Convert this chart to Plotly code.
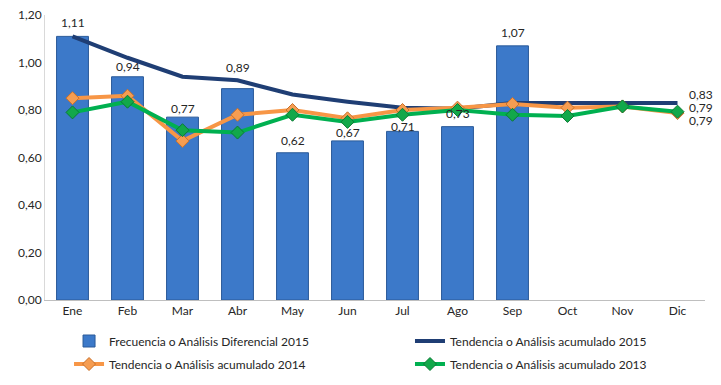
import plotly.graph_objects as go

months = ["Ene", "Feb", "Mar", "Abr", "May", "Jun", "Jul", "Ago", "Sep", "Oct", "Nov", "Dic"]
freq_2015 = [1.11, 0.94, 0.77, 0.89, 0.62, 0.67, 0.71, 0.73, 1.07]
tend_2015 = [1.11, 1.02, 0.94, 0.925, 0.865, 0.835, 0.81, 0.805, 0.83, 0.83, 0.83, 0.83]
tend_2014 = [0.85, 0.86, 0.67, 0.78, 0.80, 0.765, 0.80, 0.81, 0.825, 0.81, 0.815, 0.787]
tend_2013 = [0.79, 0.835, 0.715, 0.705, 0.78, 0.75, 0.78, 0.80, 0.78, 0.775, 0.815, 0.793]

names = ["Frecuencia o Análisis Diferencial 2015", "Tendencia o Análisis acumulado 2015",
         "Tendencia o Análisis acumulado 2014", "Tendencia o Análisis acumulado 2013"]

# label pixel offsets (layout only)
bar_label_shift = [14, 10, 9, 21, 12, 8, 5, 13, 13]

FONT = "Lato"
TXT = "#262626"
fmt = lambda v: f"{v:.2f}".replace(".", ",")

fig = go.Figure()
fig.add_trace(go.Bar(x=months[:len(freq_2015)], y=freq_2015, name=names[0], width=0.58,
                     legend="legend",
                     marker=dict(color="#3C79C9", line=dict(color="#2A5A99", width=1))))
fig.add_trace(go.Scatter(x=months, y=tend_2015, name=names[1], mode="lines",
                         legend="legend2",
                         line=dict(color="#1F3E74", width=4)))
fig.add_trace(go.Scatter(x=months, y=tend_2014, name=names[2], mode="lines+markers",
                         legend="legend3",
                         line=dict(color="#F79646", width=4),
                         marker=dict(symbol="diamond", size=10, color="#F59D52",
                                     line=dict(color="#C9702A", width=1))))
fig.add_trace(go.Scatter(x=months, y=tend_2013, name=names[3], mode="lines+markers",
                         legend="legend4",
                         line=dict(color="#00B050", width=4),
                         marker=dict(symbol="diamond", size=10, color="#12A84A",
                                     line=dict(color="#0B7A34", width=1))))

annotations = []
for m, v, s in zip(months, freq_2015, bar_label_shift):
    annotations.append(dict(x=m, y=v, text=fmt(v), showarrow=False, yanchor="middle",
                            yshift=s, font=dict(family=FONT, size=12, color=TXT)))
for series, s in zip([tend_2015, tend_2013, tend_2014], [8, 4, -7]):
    annotations.append(dict(x=months[-1], y=series[-1], text=fmt(series[-1]), showarrow=False,
                            xanchor="left", yanchor="middle", xshift=9, yshift=s,
                            font=dict(family=FONT, size=12, color=TXT)))

def leg(x, y):
    return dict(xref="container", yref="container", x=x, y=y, xanchor="left", yanchor="middle",
                orientation="h", bgcolor="rgba(0,0,0,0)",
                font=dict(family=FONT, size=12, color=TXT))

# the page body adds an 8px offset, so the figure is 713x377
fig.update_layout(
    width=713, height=377,
    margin=dict(l=37, r=16, t=7, b=85, autoexpand=False),
    paper_bgcolor="white", plot_bgcolor="white",
    separators=",.",
    font=dict(family=FONT, size=12, color=TXT),
    showlegend=True,
    legend=leg(0.0856, 0.1167),
    legend2=leg(0.5638, 0.1167),
    legend3=leg(0.0856, 0.0557),
    legend4=leg(0.5638, 0.0557),
    annotations=annotations,
)
fig.update_xaxes(type="category", categoryorder="array", categoryarray=months,
                 range=[-0.5, len(months) - 0.5],
                 showline=True, linecolor="#BFBFBF", linewidth=1, ticks="",
                 showgrid=False, tickfont=dict(family=FONT, size=12, color=TXT))
fig.update_yaxes(range=[0, 1.2], tick0=0, dtick=0.2, tickformat=".2f",
                 ticklabeloverflow="allow",
                 showline=True, linecolor="#D9D9D9", linewidth=1, showgrid=False,
                 zeroline=False, ticks="", ticklen=0,
                 tickfont=dict(family=FONT, size=12, color=TXT))

fig.write_html("out.html")
